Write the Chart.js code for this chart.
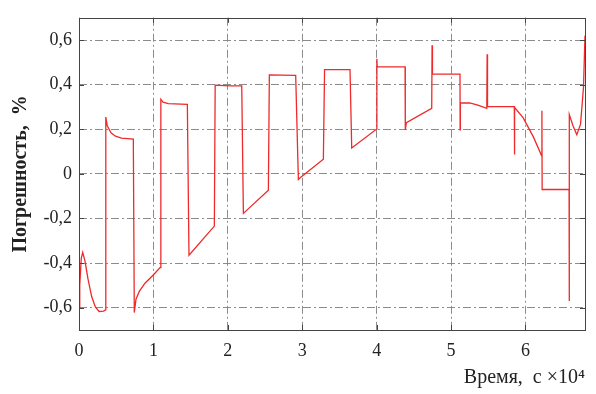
<!DOCTYPE html>
<html>
<head>
<meta charset="utf-8">
<script src="https://cdn.jsdelivr.net/npm/chart.js@4/dist/chart.umd.min.js"></script>
<style>
html,body{margin:0;padding:0;background:#fff;}
canvas{display:block;}
</style>
</head>
<body>
<canvas id="c" width="596" height="394"></canvas>
<script>
// time, ×10^4 s
const times = [
  0, 0.01, 0.03, 0.05, 0.08, 0.12, 0.17, 0.22, 0.27, 0.33, 0.355,
  0.36, 0.38, 0.43, 0.49, 0.57, 0.73,
  0.743, 0.766, 0.81, 0.887, 1.008, 1.089,
  1.10, 1.13, 1.20, 1.456,
  1.478, 1.819,
  1.83, 1.95, 2.05, 2.187,
  2.209, 2.545,
  2.558, 2.912,
  2.948, 2.98, 3.284,
  3.30, 3.642,
  3.665, 4.0,
  4.003, 4.008, 4.382,
  4.385, 4.40, 4.74,
  4.745, 4.75, 5.12,
  5.122, 5.125, 5.25, 5.36, 5.48,
  5.485, 5.49, 5.85,
  5.852, 5.855, 5.97, 6.106, 6.219,
  6.221, 6.224, 6.586,
  6.588, 6.59, 6.64, 6.69, 6.74, 6.78, 6.8
];
// error, %
const errors = [
  -0.60, -0.50, -0.38, -0.352, -0.39, -0.47, -0.55, -0.597, -0.617, -0.615, -0.61,
  0.255, 0.216, 0.184, 0.169, 0.160, 0.156,
  -0.622, -0.562, -0.527, -0.49, -0.45, -0.42,
  0.334, 0.322, 0.315, 0.312,
  -0.365, -0.234,
  0.398, 0.396, 0.395, 0.395,
  -0.177, -0.073,
  0.444, 0.442,
  -0.025, -0.015, 0.066,
  0.468, 0.468,
  0.116, 0.201,
  0.516, 0.48, 0.48,
  0.197, 0.23, 0.294,
  0.577, 0.447, 0.447,
  0.197, 0.319, 0.318, 0.308, 0.294,
  0.537, 0.302, 0.302,
  0.087, 0.298, 0.251, 0.166, 0.08,
  0.283, -0.07, -0.07,
  -0.57, 0.266, 0.215, 0.176, 0.223, 0.39, 0.62
];
const xTickValues = [0, 1, 2, 3, 4, 5, 6];
const xTickLabels = ['0', '1', '2', '3', '4', '5', '6'];
const yTickValues = [-0.6, -0.4, -0.2, 0, 0.2, 0.4, 0.6];
const yTickLabels = ['-0,6', '-0,4', '-0,2', '0', '0,2', '0,4', '0,6'];

const serif = "'Liberation Serif', 'Times New Roman', serif";

const boxPlugin = {
  id: 'box',
  afterDraw(chart) {
    const {ctx, chartArea: a, scales} = chart;
    ctx.save();
    ctx.strokeStyle = '#444';
    ctx.lineWidth = 1;
    ctx.setLineDash([]);
    ctx.beginPath();
    xTickValues.forEach(v => {
      const px = Math.round(scales.x.getPixelForValue(v)) + 0.5;
      ctx.moveTo(px, a.top); ctx.lineTo(px, a.top + 5);
      ctx.moveTo(px, a.bottom); ctx.lineTo(px, a.bottom - 5);
    });
    yTickValues.forEach(v => {
      const py = Math.round(scales.y.getPixelForValue(v)) + 0.5;
      ctx.moveTo(a.left, py); ctx.lineTo(a.left + 5, py);
      ctx.moveTo(a.right, py); ctx.lineTo(a.right - 5, py);
    });
    ctx.stroke();
    ctx.strokeRect(Math.round(a.left) + 0.5, Math.round(a.top) + 0.5,
      Math.round(a.right - a.left), Math.round(a.bottom - a.top));
    ctx.restore();
  }
};

new Chart(document.getElementById('c'), {
  type: 'line',
  data: {
    datasets: [{
      data: times.map((t, i) => ({x: t, y: errors[i]})),
      borderColor: '#ee2a2a',
      borderWidth: 1.3,
      pointRadius: 0,
      tension: 0,
      fill: false
    }]
  },
  options: {
    responsive: false,
    animation: false,
    layout: {padding: {left: 0, right: 11, top: 6, bottom: 0}},
    plugins: {legend: {display: false}, tooltip: {enabled: false}},
    scales: {
      x: {
        type: 'linear',
        min: 0, max: 6.8,
        afterBuildTicks(s) { s.ticks = xTickValues.map(v => ({value: v})); },
        afterFit(s) { s.height = 64; },
        ticks: {
          callback: (v) => xTickLabels[xTickValues.indexOf(v)],
          font: {family: serif, size: 18},
          color: '#222',
          padding: 10,
          maxRotation: 0
        },
        grid: {color: '#8c8c8c', lineWidth: 1, drawTicks: false},
        border: {display: false, dash: [8, 3, 2, 3]},
        title: {
          display: true,
          text: 'Время,  с ×10⁴',
          align: 'end',
          font: {family: serif, size: 20, lineHeight: 1.2},
          color: '#222',
          padding: {top: 0, bottom: 4}
        }
      },
      y: {
        type: 'linear',
        min: -0.7, max: 0.7,
        afterBuildTicks(s) { s.ticks = yTickValues.map(v => ({value: v})); },
        afterFit(s) { s.width = 79; },
        ticks: {
          callback: (v) => {
            const i = yTickValues.findIndex(t => Math.abs(t - v) < 1e-9);
            return i >= 0 ? yTickLabels[i] : '';
          },
          font: {family: serif, size: 18},
          color: '#222',
          padding: 7
        },
        grid: {color: '#8c8c8c', lineWidth: 1, drawTicks: false},
        border: {display: false, dash: [8, 3, 2, 3]},
        title: {
          display: true,
          text: 'Погрешность,  %',
          font: {family: serif, size: 20, weight: 'bold', lineHeight: 1.2},
          color: '#222',
          padding: {top: 9, bottom: 0}
        }
      }
    }
  },
  plugins: [boxPlugin]
});
</script>
</body>
</html>
